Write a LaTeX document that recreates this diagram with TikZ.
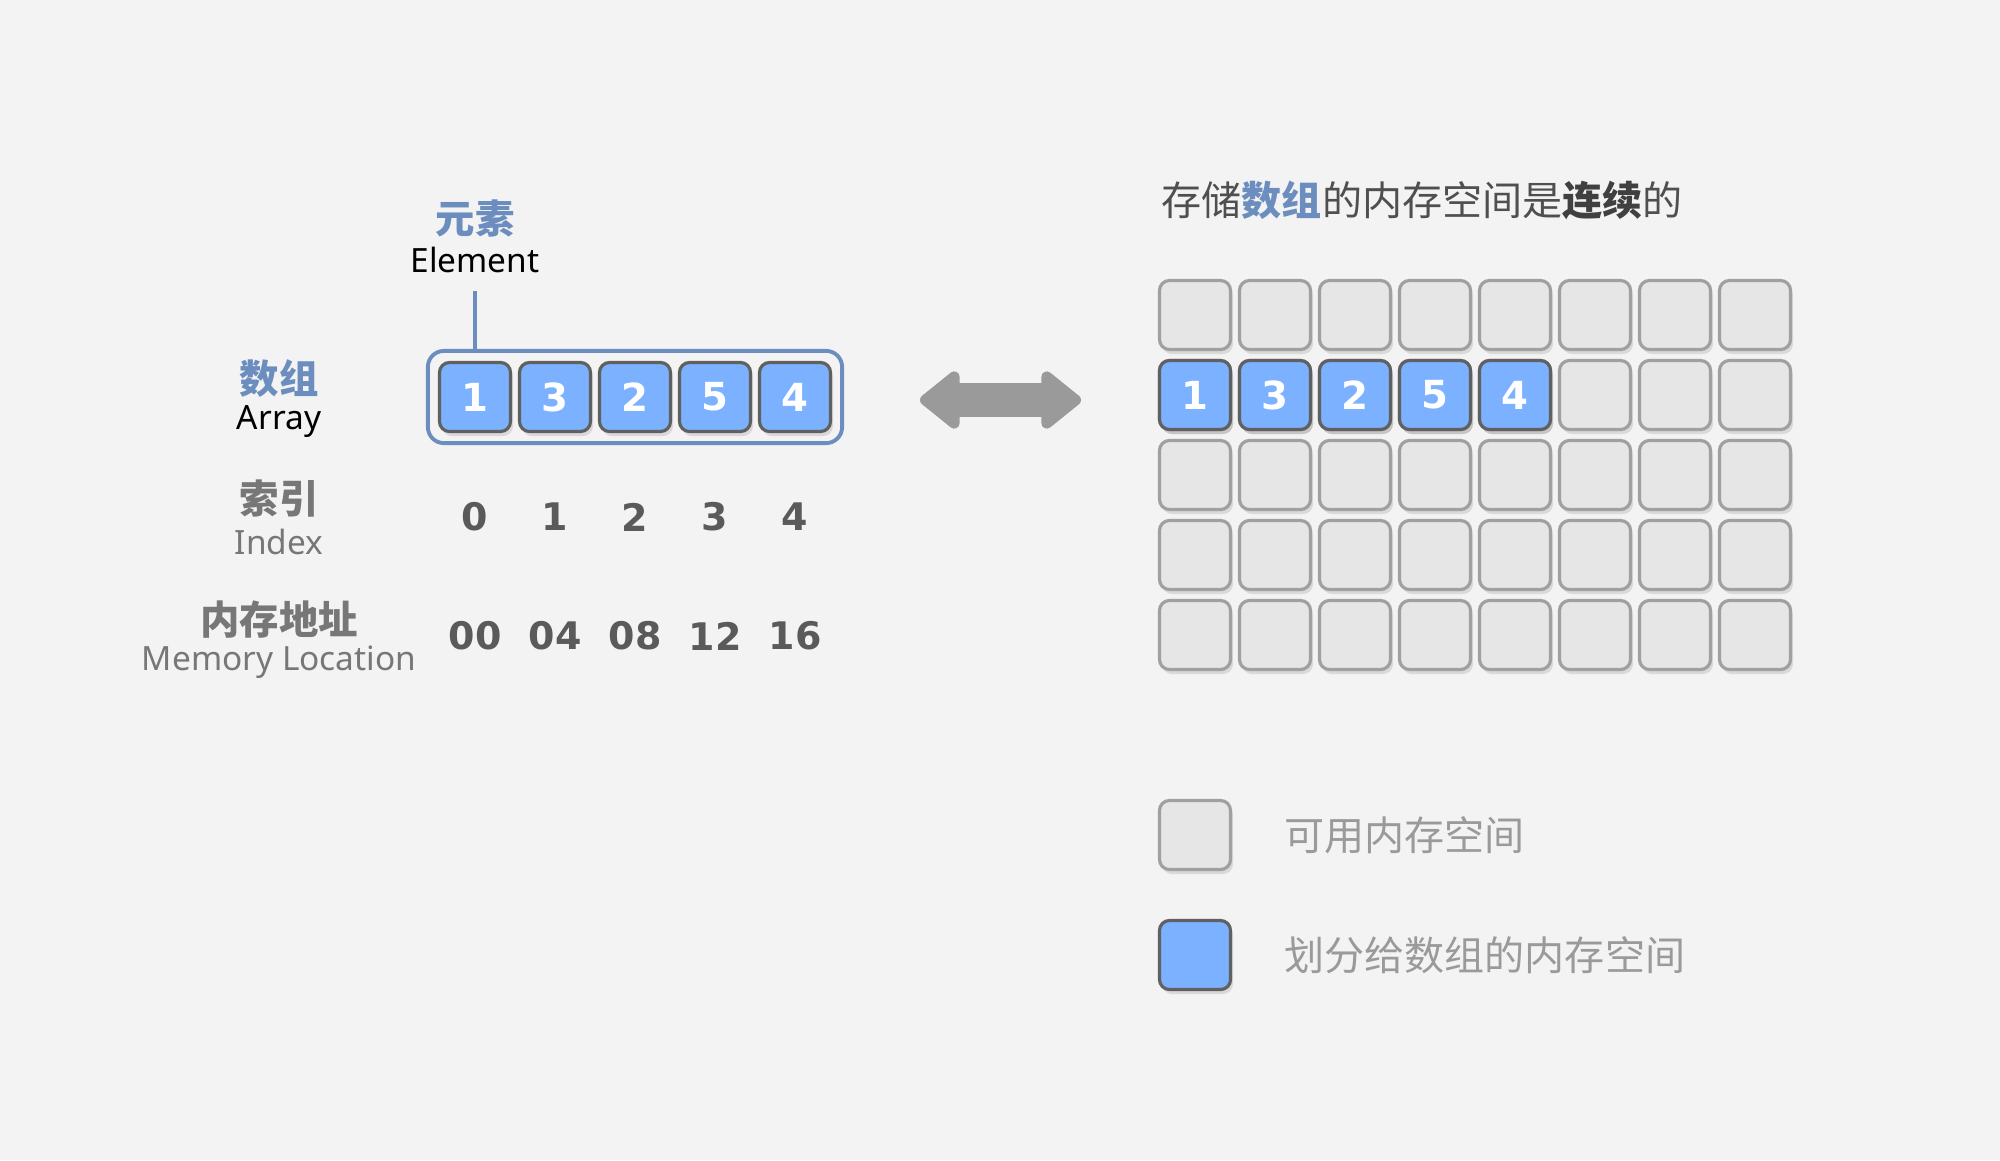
\documentclass[tikz,border=0pt]{standalone}
\usepackage{fontspec}
\setmainfont{Noto Sans}
\newfontfamily\cjk{Noto Sans CJK SC}
\newfontfamily\numfont{DejaVu Sans}
\usetikzlibrary{positioning}
\usetikzlibrary{fit}
\usetikzlibrary{arrows.meta}
\usetikzlibrary{shadows}

\definecolor{bgcol}{HTML}{F3F3F3}
\definecolor{blueval}{HTML}{7BB1FF}
\definecolor{grayval}{HTML}{E6E6E6}
\definecolor{edgelight}{HTML}{A0A0A0}
\definecolor{edgedark}{HTML}{606060}
\definecolor{steel}{HTML}{6C8EBF}
\definecolor{numgray}{HTML}{5A5A5A}
\definecolor{labgray}{HTML}{777777}
\definecolor{keygray}{HTML}{9A9A9A}
\definecolor{titlegray}{HTML}{4F4F4F}

\tikzset{slot/.style={draw=edgelight, fill=grayval, rounded corners=1mm, line width=0.9pt,
  minimum width=7.1mm, minimum height=6.9mm, inner sep=0pt,
  drop shadow={shadow xshift=0.25mm, shadow yshift=-0.45mm, opacity=0.22}}}
\tikzset{filled/.style={slot, draw=edgedark, fill=blueval, text=white,
  font=\numfont\bfseries\fontsize{11}{12}\selectfont}}
\tikzset{zhlab/.style={inner sep=0pt, font=\cjk\bfseries\fontsize{11.2}{12}\selectfont}}
\tikzset{enlab/.style={inner sep=0pt, font=\fontsize{9.5}{10}\selectfont}}
\tikzset{num/.style={inner sep=0pt, text=numgray, font=\numfont\bfseries\fontsize{10.8}{12}\selectfont}}
\tikzset{keytext/.style={inner sep=0pt, text=keygray, font=\cjk\fontsize{11.4}{12}\selectfont}}
\tikzset{bigarrow/.style={draw=keygray, line width=0.34cm,
  {Triangle[round,length=0.43cm,width=0.66cm,line width=4pt]}-{Triangle[round,length=0.43cm,width=0.66cm,line width=4pt]}}}

\begin{document}
\begin{tikzpicture}[x=0.01cm, y=-0.01cm]

\fill[bgcol] (0,0) rectangle (2000,1160);
\useasboundingbox (0,0) rectangle (2000,1160);

% the array
\foreach \v [count=\i from 0] in {1,3,2,5,4}
  \node (a\i) [filled] at (475+80*\i, 397) {\v};
\node (arr) [draw=steel, line width=1.1pt, rounded corners=1.6mm, inner sep=1mm, fit=(a0) (a4)] {};

\node (elemzh) [zhlab, text=steel] at (475, 219) {元素};
\node (elemen) [enlab] at (475, 260) {Element};
\coordinate (tick) at (475, 291);
\draw[steel, line width=0.9pt] (tick) -- (tick |- arr.north);

% row labels
\node (arrzh) [zhlab, text=steel] at (279, 379) {数组};
\node (arren) [enlab] at (279, 422) {Array};
\node (idxzh) [zhlab, text=labgray] at (279, 499) {索引};
\node (idxen) [enlab, text=labgray] at (279, 542) {Index};
\node (memzh) [zhlab, text=labgray] at (279, 620) {内存地址};
\node (memen) [enlab, text=labgray] at (279, 662) {Memory Location};

\foreach \n [count=\i from 0] in {0,1,2,3,4}
  \node (i\i) [num] at (475+80*\i, 517) {\n};
\foreach \n [count=\i from 0] in {00,04,08,12,16}
  \node (d\i) [num] at (475+80*\i, 636) {\n};

% arrow between the two views
\coordinate (lt) at (920, 400);
\coordinate (rt) at (1081, 400);
\draw[bigarrow] (lt) -- (rt);

% memory grid
\node (title) [anchor=west, inner sep=0pt, text=titlegray, font=\cjk\fontsize{11.4}{12}\selectfont]
  at (1161, 200) {存储{\bfseries\color{steel}数组}的内存空间是{\bfseries\color{black!75}连续}的};

\foreach \r in {0,...,4}
  \foreach \c in {0,...,7}
    \node (m\r\c) [slot] at (1195+80*\c, 315+80*\r) {};
\foreach \v [count=\c from 0] in {1,3,2,5,4}
  \node (b\c) [filled] at (1195+80*\c, 395) {\v};

% legend
\node (keyfree) [slot] at (1195, 835) {};
\node (keyused) [filled] at (1195, 955) {};
\node (txtfree) [keytext, anchor=west, right=0.515cm of keyfree] {可用内存空间};
\node (txtused) [keytext, anchor=west, right=0.515cm of keyused] {划分给数组的内存空间};

\end{tikzpicture}
\end{document}
